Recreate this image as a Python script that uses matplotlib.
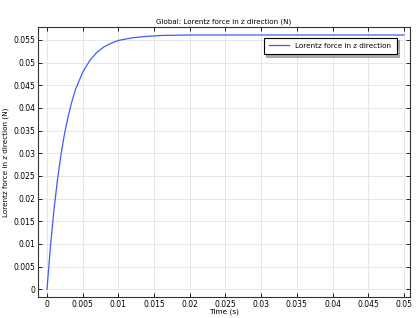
import matplotlib
matplotlib.use("Agg")
import matplotlib.pyplot as plt

time_s = [0, 0.0005, 0.001, 0.0015, 0.002, 0.0025, 0.003, 0.0035, 0.004, 0.005,
          0.006, 0.007, 0.008, 0.009, 0.01, 0.012, 0.014, 0.016, 0.02, 0.03, 0.04, 0.05]
force_N = [0, 0.0098, 0.0179, 0.0246, 0.0301, 0.0347, 0.0384, 0.0415, 0.0441, 0.0479,
           0.0505, 0.0523, 0.0535, 0.0543, 0.0549, 0.0555, 0.0558, 0.0560, 0.0561, 0.0561, 0.0561, 0.0561]
xticks = [0, 0.005, 0.01, 0.015, 0.02, 0.025, 0.03, 0.035, 0.04, 0.045, 0.05]
xticklabels = ["0", "0.005", "0.01", "0.015", "0.02", "0.025", "0.03", "0.035", "0.04", "0.045", "0.05"]
yticks = [0, 0.005, 0.01, 0.015, 0.02, 0.025, 0.03, 0.035, 0.04, 0.045, 0.05, 0.055]
yticklabels = ["0", "0.005", "0.01", "0.015", "0.02", "0.025", "0.03", "0.035", "0.04", "0.045", "0.05", "0.055"]

fig = plt.figure(figsize=(4.2, 3.18), dpi=100)
ax = fig.add_axes([38/420, 1 - 297/318, (409.5 - 38)/420, (297 - 27.3)/318])
ax.plot(time_s, force_N, color="#3f5bff", lw=0.9, label="Lorentz force in z direction")
ax.set_xlim(-0.00126, 0.05077)
ax.set_ylim(-0.0017, 0.0578)
ax.set_xticks(xticks)
ax.set_xticklabels(xticklabels)
ax.set_yticks(yticks)
ax.set_yticklabels(yticklabels)
ax.tick_params(direction="in", top=True, right=True, labelsize=5.5, length=3, width=0.6, pad=2)
ax.grid(True, color="#e3e3e3", lw=0.6)
ax.set_axisbelow(True)
for s in ax.spines.values():
    s.set_linewidth(0.8)
    s.set_color("#333333")
ax.set_title("Global: Lorentz force in z direction (N)", fontsize=5.1, pad=3)
ax.set_xlabel("Time (s)", fontsize=5.3, labelpad=0)
ax.set_ylabel("Lorentz force in z direction (N)", fontsize=5.2, labelpad=3)
leg = ax.legend(loc="upper right", fontsize=5.2, fancybox=False,
                shadow={"ox": 1.5, "oy": -1.5, "color": "#999999", "alpha": 0.8},
                edgecolor="black", framealpha=1, bbox_to_anchor=(0.966, 0.962),
                handlelength=2.7, borderpad=0.75, handletextpad=0.9, borderaxespad=0)
leg.get_frame().set_linewidth(0.8)
fig.savefig("out.png", dpi=100)
